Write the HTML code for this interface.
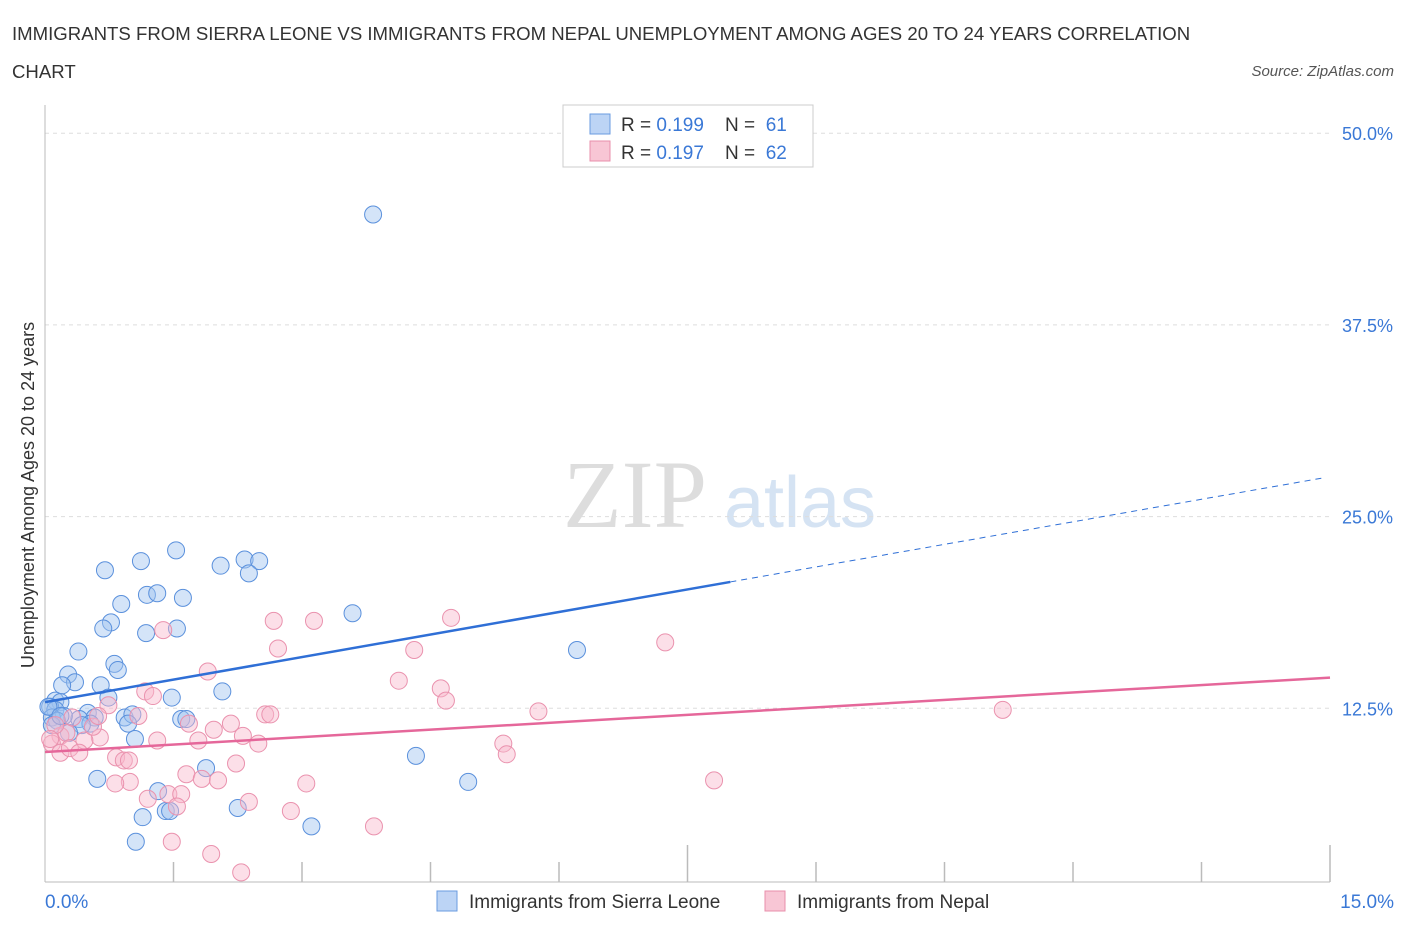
<!DOCTYPE html>
<html><head><meta charset="utf-8"><style>
body{margin:0;background:#fff;font-family:"Liberation Sans",sans-serif;}
svg{display:block}
</style></head><body>
<svg id="c" width="1406" height="930">
<text x="12" y="40" font-size="18.6" fill="#333">IMMIGRANTS FROM SIERRA LEONE VS IMMIGRANTS FROM NEPAL UNEMPLOYMENT AMONG AGES 20 TO 24 YEARS CORRELATION</text>
<text x="12" y="78" font-size="18.6" fill="#333">CHART</text>
<text x="1394" y="76" font-size="15" fill="#555" font-style="italic" text-anchor="end">Source: ZipAtlas.com</text>
<text x="635" y="527" font-size="96" fill="#ddd" font-family="Liberation Serif,serif" text-anchor="middle">ZIP</text>
<text x="800" y="527" font-size="72" fill="#d5e3f3" text-anchor="middle">atlas</text>
<g id="grid"></g>
<g id="ticks"></g>
<line x1="45" y1="105" x2="45" y2="882" stroke="#bbb"/>
<line x1="45" y1="882" x2="1330" y2="882" stroke="#bbb"/>
<text transform="translate(34,495) rotate(-90)" font-size="18" fill="#333" text-anchor="middle">Unemployment Among Ages 20 to 24 years</text>
<text x="45" y="908" font-size="19" fill="#3a78d6">0.0%</text>
<text x="1394" y="908" font-size="19" fill="#3a78d6" text-anchor="end">15.0%</text>
<g id="pts"></g>
<g id="lines"></g>
<g>
<rect x="563" y="105" width="250" height="62" fill="#fff" stroke="#ccc"/>
<rect x="590" y="114" width="20" height="20" fill="#bcd4f5" stroke="#6a9be0"/>
<text x="621" y="131" font-size="19" fill="#333">R = <tspan fill="#3a78d6">0.199</tspan>&#160;&#160;&#160; N = &#160;<tspan fill="#3a78d6">61</tspan></text>
<rect x="590" y="141" width="20" height="20" fill="#f8c6d5" stroke="#e88fab"/>
<text x="621" y="159" font-size="19" fill="#333">R = <tspan fill="#3a78d6">0.197</tspan>&#160;&#160;&#160; N = &#160;<tspan fill="#3a78d6">62</tspan></text>
</g>
<g>
<rect x="437" y="891" width="20" height="20" fill="#bcd4f5" stroke="#6a9be0"/>
<text x="469" y="908" font-size="19" fill="#333">Immigrants from Sierra Leone</text></g>
<g>
<rect x="765" y="891" width="20" height="20" fill="#f8c6d5" stroke="#e88fab"/>
<text x="797" y="908" font-size="19" fill="#333">Immigrants from Nepal</text></g>
</svg>
<script>
const yTicks=[12.5,25,37.5,50];
const yTickLabels=["12.5%","25.0%","37.5%","50.0%"];
const blueX=[3.83,1.53,1.12,2.33,2.5,0.7,2.05,2.38,1.19,1.31,1.61,0.89,3.59,0.77,0.68,1.18,1.54,6.21,0.39,0.81,0.85,0.27,0.35,0.2,0.65,2.07,1.48,0.12,0.18,0.74,0.06,0.12,0.93,1.59,1.65,1.02,0.5,0.58,0.4,0.22,0.08,0.14,0.53,0.43,0.97,0.28,1.05,4.33,1.88,0.61,4.94,1.32,2.25,1.41,1.46,1.14,3.11,1.06,0.04,0.08,0.18];
const blueY=[44.7,22.8,22.1,22.2,22.1,21.5,21.8,21.3,19.9,20.0,19.7,19.3,18.7,18.1,17.7,17.4,17.7,16.3,16.2,15.4,15.0,14.7,14.2,14.0,14.0,13.6,13.2,13.0,12.9,13.2,12.6,12.4,11.9,11.8,11.8,12.1,12.2,11.9,11.8,12.0,11.9,11.7,11.5,11.4,11.5,10.9,10.5,9.4,8.6,7.9,7.7,7.1,6.0,5.8,5.8,5.4,4.8,3.8,12.6,11.4,12.0];
const pinkX=[4.74,2.67,3.14,1.38,2.72,4.31,7.24,1.90,4.13,4.62,1.17,1.26,4.68,5.76,11.18,0.74,1.09,2.57,2.63,2.17,1.68,1.97,2.31,2.49,1.31,1.79,0.64,0.46,0.18,0.25,0.08,0.18,0.29,0.40,5.35,5.39,0.83,0.92,0.98,2.23,1.65,1.83,2.02,3.05,0.99,0.82,7.81,1.20,1.44,1.59,2.38,2.87,1.54,3.84,1.48,1.94,2.29,0.56,0.12,0.32,0.62,0.06];
const pinkY=[18.4,18.2,18.2,17.6,16.4,16.3,16.8,14.9,14.3,13.8,13.6,13.3,13.0,12.3,12.4,12.7,12.0,12.1,12.1,11.5,11.5,11.1,10.7,10.2,10.4,10.4,10.6,10.4,10.7,10.9,10.2,9.6,9.9,9.6,10.2,9.5,9.3,9.1,9.1,8.9,8.2,7.9,7.8,7.6,7.7,7.6,7.8,6.6,6.9,6.9,6.4,5.8,6.1,4.8,3.8,3.0,1.8,11.3,11.4,11.9,12.0,10.5];
const blueLine=[12.9,27.6];
const pinkLine=[9.65,14.5];
const NS="http://www.w3.org/2000/svg";
const sx=v=>45+v/15*1285;
const sy=v=>900-v/12.5*191.7;
function mk(t,a,p){const e=document.createElementNS(NS,t);for(const k in a)e.setAttribute(k,a[k]);p.appendChild(e);return e;}
const grid=document.getElementById('grid');
yTicks.forEach((t,i)=>{
 const l=mk('line',{x1:45,x2:1330,y1:sy(t),y2:sy(t),stroke:'#ddd','stroke-dasharray':'4,4'},grid);
 
 
 const tx=mk('text',{x:1393,y:sy(t)+7,'font-size':18,fill:'#3a78d6','text-anchor':'end'},grid);
 tx.textContent=yTickLabels[i];
 
 
});
const tk=document.getElementById('ticks');
for(let i=1;i<=10;i++){
 const x=sx(i*1.5);
 const l=mk('line',{x1:x,x2:x,y1:(i==5||i==10)?845:862,y2:882,stroke:'#bbb','stroke-width':1.5},tk);
 
 
}
const pts=document.getElementById('pts');
blueX.forEach((v,i)=>{
 const c=mk('circle',{cx:sx(v),cy:sy(blueY[i]),r:8.5,fill:'rgba(160,195,240,0.45)',stroke:'#5a90dc','stroke-width':1},pts);
 
 
});
pinkX.forEach((v,i)=>{
 const c=mk('circle',{cx:sx(v),cy:sy(pinkY[i]),r:8.5,fill:'rgba(248,185,205,0.45)',stroke:'#ea92ae','stroke-width':1},pts);
 
 
});
const ln=document.getElementById('lines');
const bAt=x=>blueLine[0]+(blueLine[1]-blueLine[0])*x/15;
const a=mk('line',{x1:sx(0),y1:sy(bAt(0)),x2:sx(8),y2:sy(bAt(8)),stroke:'#2f6fd6','stroke-width':2.5},ln);


const b=mk('line',{x1:sx(8),y1:sy(bAt(8)),x2:sx(14.95),y2:sy(bAt(14.95)),stroke:'#2f6fd6','stroke-width':1,'stroke-dasharray':'6,5'},ln);


const p=mk('line',{x1:sx(0),y1:sy(pinkLine[0]),x2:sx(15),y2:sy(pinkLine[1]),stroke:'#e5679a','stroke-width':2.5},ln);


</script>
</body></html>
